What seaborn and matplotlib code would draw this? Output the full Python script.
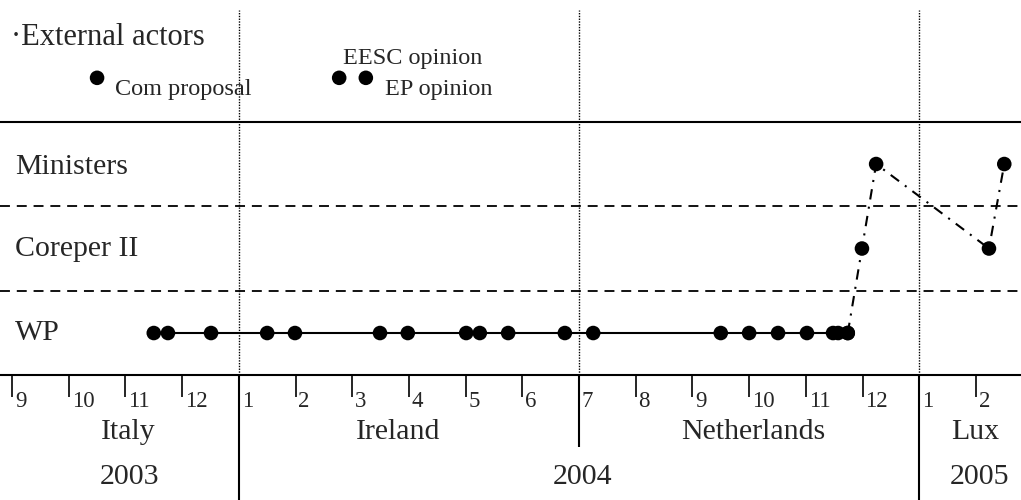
import matplotlib
matplotlib.use("Agg")
import matplotlib.pyplot as plt
import seaborn as sns
import pandas as pd

sns.set_style("white")
plt.rcParams['font.family'] = ['Liberation Serif', 'DejaVu Serif']

# ---- data (x = months since Sep 2003, y = level) ----
month_labels = ["9", "10", "11", "12", "1", "2", "3", "4", "5", "6",
                "7", "8", "9", "10", "11", "12", "1", "2"]
row_labels = ["WP", "Coreper II", "Ministers", "External actors"]

wp_dates = [2.50, 2.75, 3.51, 4.50, 4.99, 6.49, 6.98, 8.01, 8.25, 8.75,
            9.75, 10.25, 12.50, 13.00, 13.51, 14.02, 14.48, 14.57, 14.74]

high_dates = [14.74, 14.99, 15.24, 17.23, 17.50]
high_levels = [0, 1, 2, 1, 2]

ext_dates = [1.50, 5.77, 6.24]
ext_names = ["Com proposal", "EESC opinion", "EP opinion"]

presidencies = ["Italy", "Ireland", "Netherlands", "Lux"]
pres_pos = [2.05, 6.81, 13.07, 16.98]
years = ["2003", "2004", "2005"]
year_pos = [2.08, 10.07, 17.07]
semester_bounds = [4, 10, 16]

# ---- figure ----
fig = plt.figure(figsize=(10.21, 5.0), dpi=100)
ax = fig.add_axes([0, 0, 1, 1])

big = 21.5

# horizontal separators
ax.axhline(2.5, color="black", lw=1.5)
ax.axhline(1.5, color="black", lw=1.3, linestyle=(0, (5.5, 3.8)))
ax.axhline(0.5, color="black", lw=1.3, linestyle=(0, (5.5, 3.8)))
ax.axhline(-0.5, color="black", lw=1.5)

# vertical dotted semester lines and solid lines below axis
for i, b in enumerate(semester_bounds):
    ax.vlines(b, -0.5, 3.82, color="black", lw=1.0, linestyle=(0, (1, 1)))
    bottom = -1.35 if i == 1 else -1.976
    ax.vlines(b, bottom, -0.5, color="black", lw=1.5)

# month ticks
for i, lab in enumerate(month_labels):
    ax.vlines(i, -0.757, -0.5, color="black", lw=1.2)
    ax.text(i + 0.05, -0.81, lab, ha="left", va="center", fontsize=16.5)

for name, p in zip(presidencies, pres_pos):
    ax.text(p, -1.17, name, ha="center", va="center", fontsize=big)
for name, p in zip(years, year_pos):
    ax.text(p, -1.70, name, ha="center", va="center", fontsize=big)

# row labels
ax.text(0.053, 0.0, row_labels[0], ha="left", va="center", fontsize=big)
ax.text(0.053, 1.0, row_labels[1], ha="left", va="center", fontsize=big)
ax.text(0.053, 1.96, row_labels[2], ha="left", va="center", fontsize=big)
ax.text(-0.01, 3.5, "\u00b7" + row_labels[3], ha="left", va="center", fontsize=22)

# WP line and points
wp_df = pd.DataFrame({"date": wp_dates, "level": [0] * len(wp_dates)})
sns.lineplot(data=wp_df, x="date", y="level", color="black", lw=1.5,
             estimator=None, sort=False, ax=ax)
sns.scatterplot(data=wp_df, x="date", y="level", color="black", s=110,
                edgecolor="none", ax=ax, zorder=5)

# high-level path
hi_df = pd.DataFrame({"date": high_dates, "level": high_levels})
sns.lineplot(data=hi_df, x="date", y="level", color="black", lw=1.5,
             estimator=None, sort=False, ax=ax,
             linestyle=(0, (5, 3.5, 1, 3.5)))
sns.scatterplot(data=hi_df, x="date", y="level", color="black", s=110,
                edgecolor="none", ax=ax, zorder=5)

# external actors
ext_df = pd.DataFrame({"date": ext_dates, "level": [3.02] * 3})
sns.scatterplot(data=ext_df, x="date", y="level", color="black", s=110,
                edgecolor="none", ax=ax, zorder=5)
ext_text_pos = [(1.82, 2.88), (5.84, 3.25), (6.58, 2.88)]
for name, (tx, ty) in zip(ext_names, ext_text_pos):
    ax.text(tx, ty, name, ha="left", va="center", fontsize=17.5)

ax.set_xlim(-0.212, 17.795)
ax.set_ylim(-1.976, 3.941)
ax.axis("off")
if ax.get_legend() is not None:
    ax.get_legend().remove()

fig.savefig("out.png", dpi=100)
